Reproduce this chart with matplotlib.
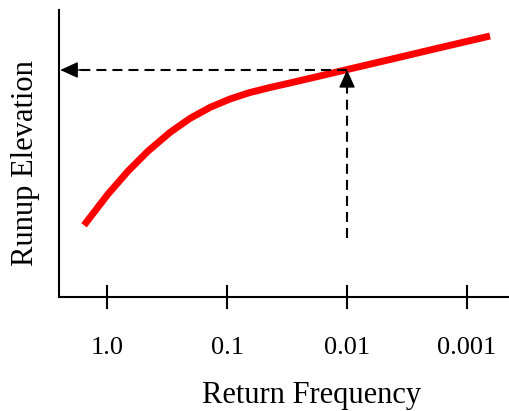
import matplotlib.pyplot as plt

# return frequency vs runup elevation (elevation in arbitrary units)
freq = [1.555, 0.981, 0.668, 0.455, 0.2985, 0.2034, 0.1385, 0.0944, 0.0643,
        0.0438, 0.0299, 0.0203, 0.01387, 0.01, 0.00438, 0.00168, 0.000643]
elev = [71.7, 102.9, 125.9, 145.9, 164.6, 178.6, 189.6, 198, 204.5,
        209.5, 214, 218.7, 223.4, 227.4, 237.5, 249.3, 261]

tick_vals = [1.0, 0.1, 0.01, 0.001]
tick_labels = ['1.0', '0.1', '0.01', '0.001']

design_freq = 0.01
design_elev = 227
arrow_start = 59

plt.rcParams['font.family'] = ['Liberation Serif', 'DejaVu Serif']

fig = plt.figure(figsize=(5.1, 4.11), dpi=100)
ax = fig.add_axes([0.1157, 0.2774, 0.8843, 0.6983])

ax.plot(freq, elev, color='#ff0000', lw=5, solid_capstyle='butt', solid_joinstyle='round')

ax.set_xscale('log')
ax.set_xlim(10 ** 0.4, 10 ** -3.358)
ax.set_ylim(0, 287)

# dashed guide lines
dash = (0, (4.8, 2.9))
ax.plot([design_freq, 10 ** 0.3], [design_elev, design_elev], color='black', lw=1.5, linestyle=dash)
ax.plot([design_freq, design_freq], [arrow_start, design_elev - 14], color='black', lw=1.5, linestyle=dash)

# arrow heads
head = dict(arrowstyle='-|>,head_length=1.1,head_width=0.5', color='black', lw=1, shrinkA=0, shrinkB=0)
ax.annotate('', xy=(10 ** 0.39, design_elev), xytext=(10 ** 0.2, design_elev), arrowprops=head)
ax.annotate('', xy=(design_freq, design_elev), xytext=(design_freq, design_elev - 17), arrowprops=head)

ax.set_xticks(tick_vals)
ax.set_xticklabels(tick_labels)
ax.minorticks_off()
ax.set_yticks([])
ax.tick_params(axis='x', direction='inout', length=17, width=1.5, pad=20, labelsize=19)

ax.spines['top'].set_visible(False)
ax.spines['right'].set_visible(False)
ax.spines['left'].set_linewidth(1.5)
ax.spines['bottom'].set_linewidth(1.5)

fig.text(312 / 510, 1 - 395 / 411, 'Return Frequency', fontsize=22, ha='center', va='center')
fig.text(26 / 510, 1 - 163 / 411, 'Runup Elevation', fontsize=22, rotation=90, ha='center', va='center')

fig.savefig('out.png', dpi=100)
